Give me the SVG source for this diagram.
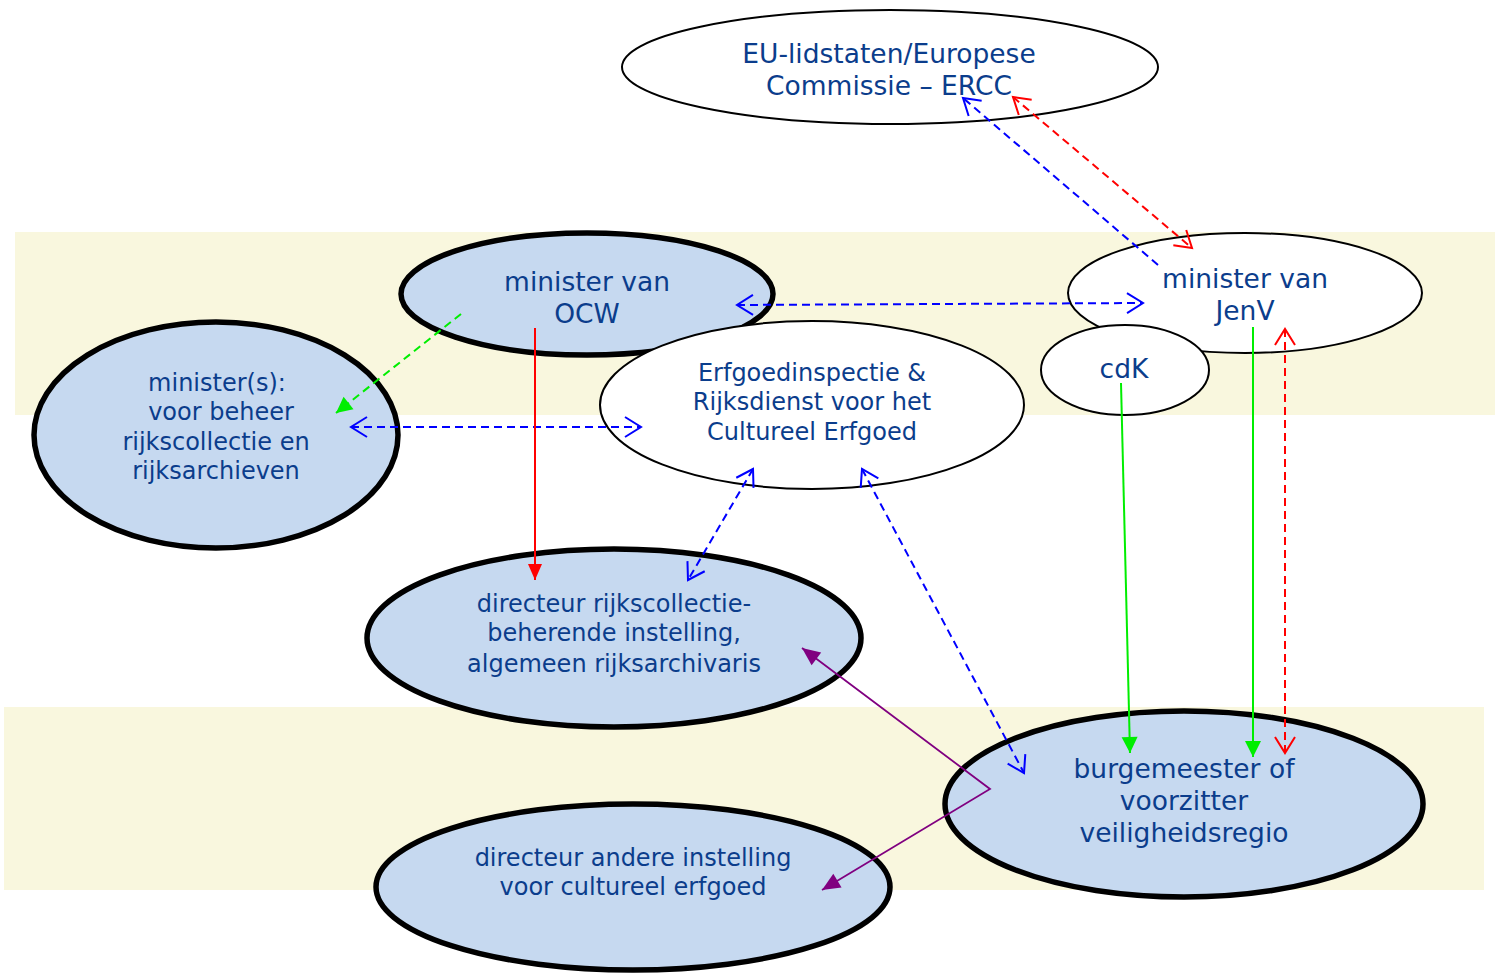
<svg xmlns="http://www.w3.org/2000/svg" width="1499" height="974" viewBox="0 0 1499 974">
<defs>
<style>
.band{fill:#F9F7DE;stroke:none}
.thick{fill:#C6D9F0;stroke:#000;stroke-width:5.5}
.thin{fill:#fff;stroke:#000;stroke-width:2}
text{font-family:"DejaVu Sans","Verdana",sans-serif;fill:#0B3D8C;text-anchor:middle}
.big{font-size:26.5px}
.small{font-size:24px}
.conn{fill:none}
.bd{stroke:#0000FF;stroke-width:2;stroke-dasharray:8 5}
.rd{stroke:#FF0000;stroke-width:2;stroke-dasharray:8 5}
.gd{stroke:#00EE00;stroke-width:2;stroke-dasharray:8 5}
.rs{stroke:#FF0000;stroke-width:2}
.gs{stroke:#00EE00;stroke-width:2}
.ps{stroke:#800080;stroke-width:1.8}
</style>
<marker id="vb" markerUnits="userSpaceOnUse" markerWidth="20" markerHeight="22" refX="16" refY="10" orient="auto-start-reverse" overflow="visible"><path d="M0,0 L16,10 L0,20" fill="none" stroke="#0000FF" stroke-width="2"/></marker>
<marker id="vr" markerUnits="userSpaceOnUse" markerWidth="20" markerHeight="22" refX="16" refY="10" orient="auto-start-reverse" overflow="visible"><path d="M0,0 L16,10 L0,20" fill="none" stroke="#FF0000" stroke-width="2"/></marker>
<marker id="tg" markerUnits="userSpaceOnUse" markerWidth="18" markerHeight="18" refX="16" refY="8" orient="auto" overflow="visible"><path d="M0,0 L16,8 L0,16 Z" fill="#00EE00"/></marker>
<marker id="tr" markerUnits="userSpaceOnUse" markerWidth="18" markerHeight="18" refX="16" refY="7" orient="auto" overflow="visible"><path d="M0,0 L16,7 L0,14 Z" fill="#FF0000"/></marker>
<marker id="tp" markerUnits="userSpaceOnUse" markerWidth="20" markerHeight="20" refX="18" refY="8" orient="auto-start-reverse" overflow="visible"><path d="M0,0 L18,8 L0,16 Z" fill="#800080"/></marker>
</defs>
<rect width="1499" height="974" fill="#fff"/>
<rect class="band" x="15" y="232" width="1480" height="183"/>
<rect class="band" x="4" y="707" width="1480" height="183"/>

<g id="eu">
<ellipse class="thin" cx="890" cy="67" rx="268" ry="57"/>
<text class="big" x="889" y="63">EU-lidstaten/Europese</text>
<text class="big" x="889" y="95">Commissie – ERCC</text>
</g>
<g id="ocw">
<ellipse class="thick" cx="587" cy="294" rx="186" ry="61"/>
<text class="big" x="587" y="291">minister van</text>
<text class="big" x="587" y="323">OCW</text>
</g>
<g id="jenv">
<ellipse class="thin" cx="1245" cy="293" rx="177" ry="60"/>
<text class="big" x="1245" y="288">minister van</text>
<text class="big" x="1245" y="320">JenV</text>
</g>
<g id="cdk">
<ellipse class="thin" cx="1125" cy="370" rx="84" ry="45"/>
<text class="big" x="1124" y="378">cdK</text>
</g>
<g id="erfgoed">
<ellipse class="thin" cx="812" cy="405" rx="212" ry="84"/>
<text class="small" x="812" y="381">Erfgoedinspectie &amp;</text>
<text class="small" x="812" y="410">Rijksdienst voor het</text>
<text class="small" x="812" y="440">Cultureel Erfgoed</text>
</g>
<g id="ministers">
<ellipse class="thick" cx="216" cy="435" rx="182" ry="113"/>
<text class="small" x="217" y="391">minister(s):</text>
<text class="small" x="221" y="420">voor beheer</text>
<text class="small" x="216" y="450">rijkscollectie en</text>
<text class="small" x="216" y="479">rijksarchieven</text>
</g>
<g id="dirrijks">
<ellipse class="thick" cx="614" cy="638" rx="247" ry="89"/>
<text class="small" x="614" y="612">directeur rijkscollectie-</text>
<text class="small" x="614" y="641">beherende instelling,</text>
<text class="small" x="614" y="672">algemeen rijksarchivaris</text>
</g>
<g id="burgemeester">
<ellipse class="thick" cx="1184" cy="804" rx="239" ry="93"/>
<text class="big" x="1184" y="778">burgemeester of</text>
<text class="big" x="1184" y="810">voorzitter</text>
<text class="big" x="1184" y="842">veiligheidsregio</text>
</g>
<g id="dirandere">
<ellipse class="thick" cx="633" cy="887" rx="257" ry="83"/>
<text class="small" x="633" y="866">directeur andere instelling</text>
<text class="small" x="633" y="895">voor cultureel erfgoed</text>
</g>

<g id="connectors" class="conn">
<line class="bd" x1="737" y1="305" x2="1143" y2="303" marker-start="url(#vb)" marker-end="url(#vb)"/>
<line class="bd" x1="351" y1="427" x2="641" y2="427" marker-start="url(#vb)" marker-end="url(#vb)"/>
<line class="gd" x1="461" y1="314" x2="336" y2="413" marker-end="url(#tg)"/>
<line class="rs" x1="535" y1="328" x2="535" y2="580" marker-end="url(#tr)"/>
<line class="bd" x1="753" y1="469" x2="688" y2="580" marker-start="url(#vb)" marker-end="url(#vb)"/>
<line class="bd" x1="862" y1="469" x2="1024" y2="773" marker-start="url(#vb)" marker-end="url(#vb)"/>
<line class="bd" x1="1158" y1="265" x2="963" y2="98" marker-end="url(#vb)"/>
<line class="rd" x1="1013" y1="97" x2="1192" y2="248" marker-start="url(#vr)" marker-end="url(#vr)"/>
<line class="gs" x1="1121" y1="383" x2="1130" y2="753" marker-end="url(#tg)"/>
<line class="gs" x1="1253" y1="327" x2="1253" y2="757" marker-end="url(#tg)"/>
<line class="rd" x1="1285" y1="329" x2="1285" y2="753" marker-start="url(#vr)" marker-end="url(#vr)"/>
<path class="ps" d="M802,648 L990,789 L822,890" marker-start="url(#tp)" marker-end="url(#tp)"/>
</g>
</svg>
